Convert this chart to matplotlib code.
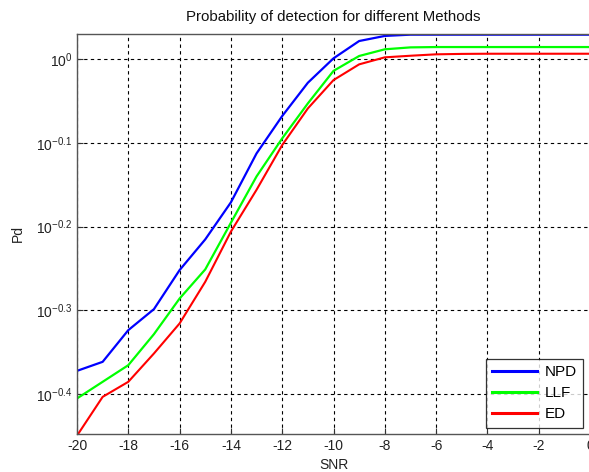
import numpy as np
import matplotlib
matplotlib.use("Agg")
import matplotlib.pyplot as plt
from matplotlib.ticker import FixedLocator, FixedFormatter, NullLocator

plt.rcParams['font.family'] = ['Liberation Sans', 'DejaVu Sans']
plt.rcParams['mathtext.fontset'] = 'custom'
plt.rcParams['mathtext.rm'] = 'Liberation Sans'

# SNR (dB) and log10(Pd)
snr = list(range(-20, 1))
npd_log = [-0.3725, -0.3617, -0.3238, -0.2987, -0.252, -0.2153, -0.171, -0.1125,
           -0.0678, -0.028, 0.0012, 0.0219, 0.028, 0.0295, 0.0295, 0.0295,
           0.0295, 0.0295, 0.0295, 0.0295, 0.0295]
llf_log = [-0.4055, -0.3856, -0.3657, -0.3286, -0.286, -0.2512, -0.1954, -0.140,
           -0.0945, -0.0527, -0.0138, 0.004, 0.012, 0.0143, 0.0147, 0.0147,
           0.0147, 0.0147, 0.0147, 0.0147, 0.0147]
ed_log = [-0.45, -0.4036, -0.3856, -0.3517, -0.3158, -0.266, -0.206, -0.156,
          -0.1025, -0.0587, -0.0248, -0.006, 0.0024, 0.0043, 0.006, 0.0065,
          0.0067, 0.0067, 0.0067, 0.0067, 0.0067]

yticks = [-0.4, -0.3, -0.2, -0.1, 0]
ytick_labels = ['$\\mathregular{10^{-0.4}}$', '$\\mathregular{10^{-0.3}}$',
                '$\\mathregular{10^{-0.2}}$', '$\\mathregular{10^{-0.1}}$',
                '$\\mathregular{10^{0}}$']
xticks = list(range(-20, 1, 2))

fig = plt.figure(figsize=(5.89, 4.72), dpi=100)
ax = fig.add_axes([77 / 589, 38 / 472, 513 / 589, 400 / 472])

ax.plot(snr, 10 ** np.array(npd_log), color='#0000ff', lw=1.6, label='NPD')
ax.plot(snr, 10 ** np.array(llf_log), color='#00ff00', lw=1.6, label='LLF')
ax.plot(snr, 10 ** np.array(ed_log), color='#ff0000', lw=1.5, label='ED')

ax.set_yscale('log')
ax.set_xlim(-20, 0)
ax.set_ylim(10 ** -0.448, 10 ** 0.0303)
ax.yaxis.set_major_locator(FixedLocator([10 ** v for v in yticks]))
ax.yaxis.set_major_formatter(FixedFormatter(ytick_labels))
ax.yaxis.set_minor_locator(NullLocator())
ax.set_xticks(xticks)
ax.set_xticklabels([str(v) for v in xticks])

ax.grid(True, color='black', linestyle=(0, (3, 3)), linewidth=0.8)
ax.tick_params(direction='in', length=4, labelsize=10, colors='#333333',
               labelcolor='#222222')
for s in ax.spines.values():
    s.set_color('#555555')
    s.set_linewidth(1.0)

ax.set_title('Probability of detection for different Methods', fontsize=10.8,
             color='#111111', pad=9)
ax.set_xlabel('SNR', fontsize=10, color='#222222', labelpad=4)
ax.set_ylabel('Pd', fontsize=10, color='#222222', labelpad=8)

leg = ax.legend(loc='lower right', bbox_to_anchor=(0.987, 0.015), fontsize=11,
                frameon=True, fancybox=False, handlelength=2.9,
                borderpad=0.45, labelspacing=0.45, handletextpad=0.5,
                borderaxespad=0)
leg.get_frame().set_edgecolor('black')
leg.get_frame().set_linewidth(0.9)
for line in leg.get_lines():
    line.set_linewidth(2.2)

fig.savefig('out.png', dpi=100)
